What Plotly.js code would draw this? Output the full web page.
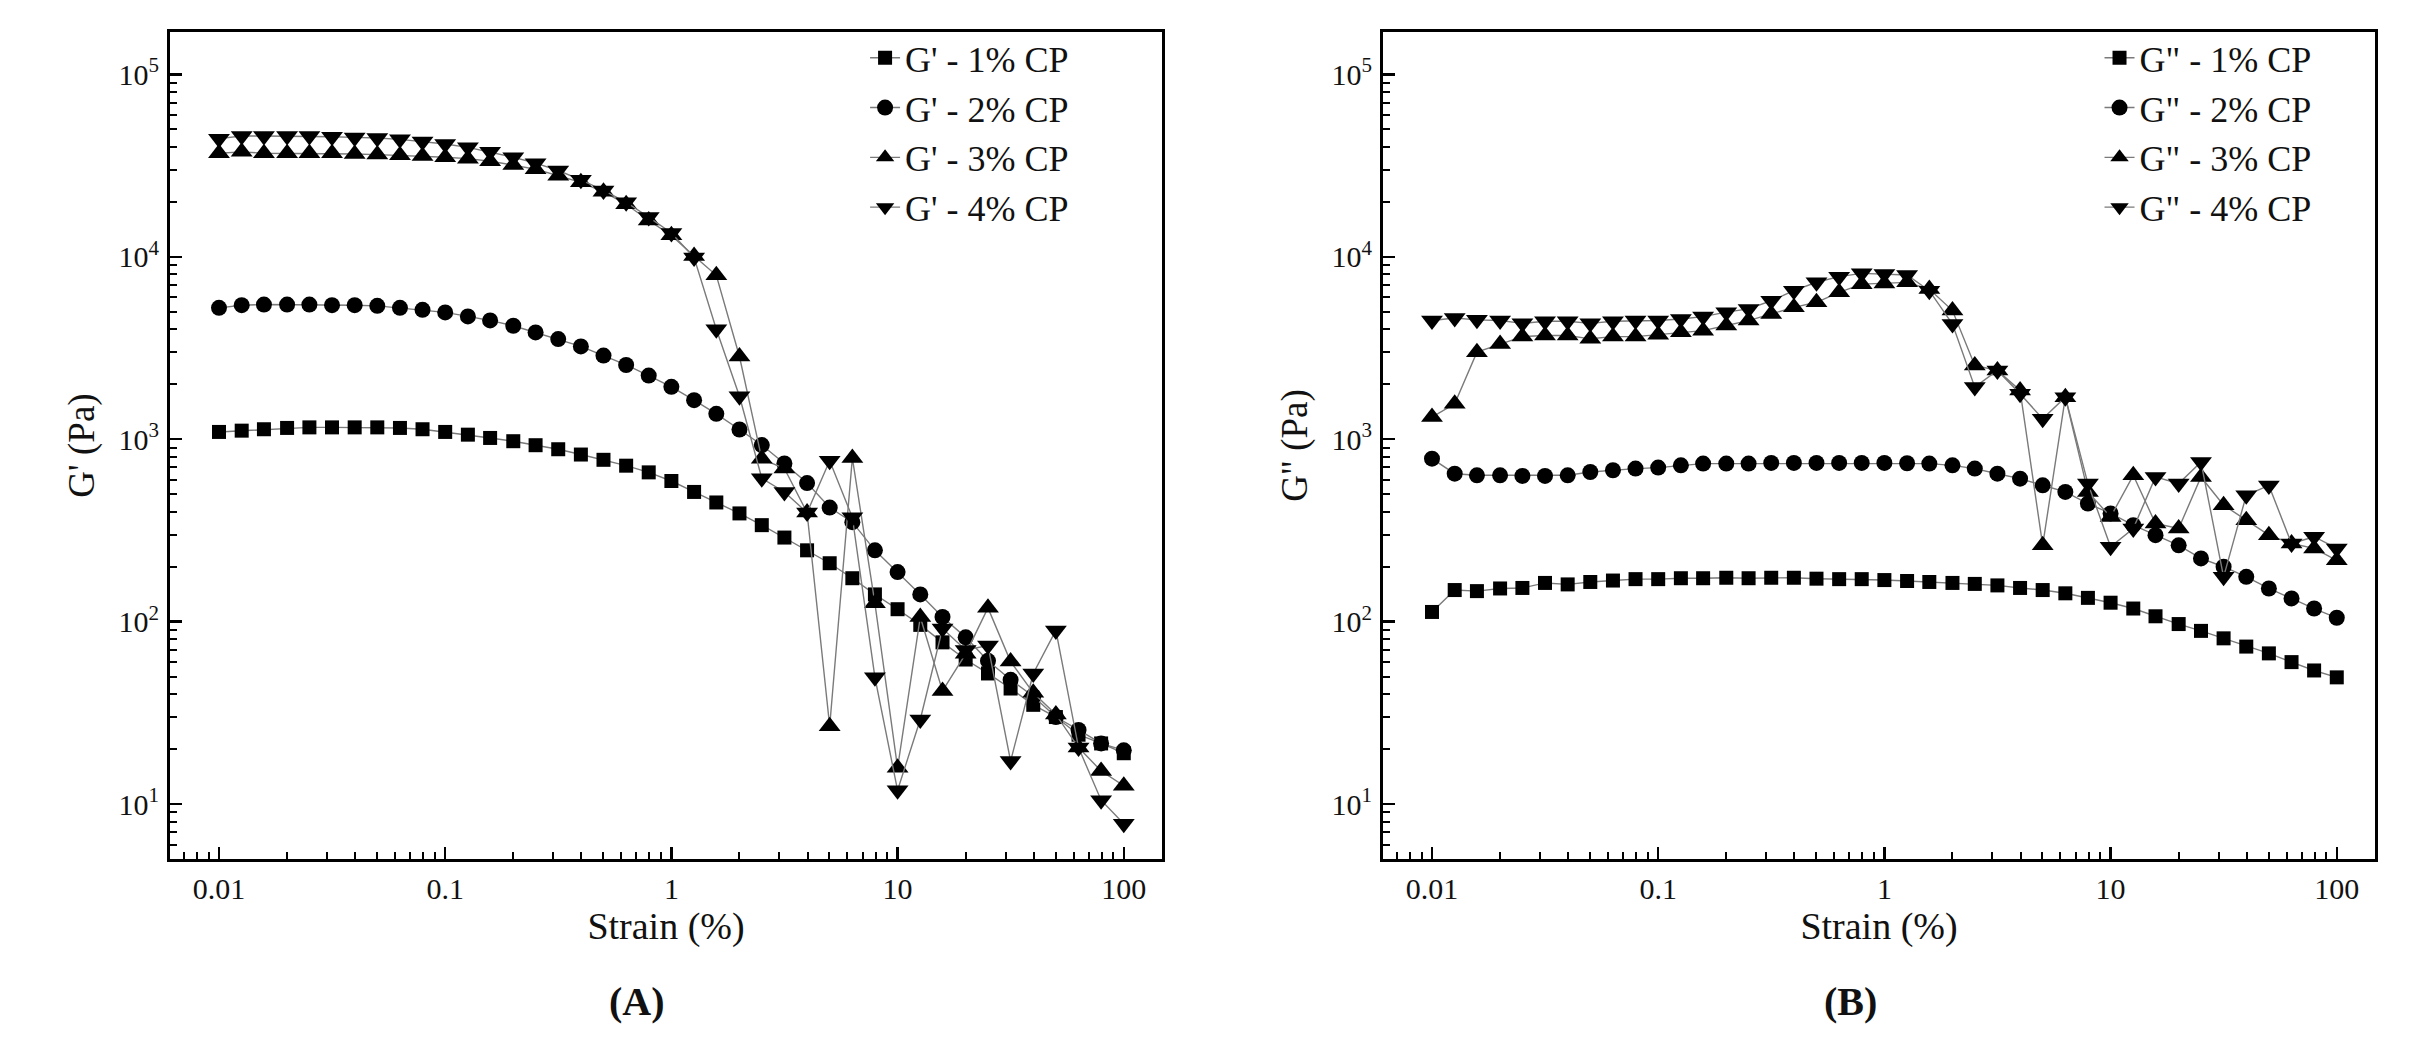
<!DOCTYPE html>
<html>
<head>
<meta charset="utf-8">
<script src="https://cdn.plot.ly/plotly-3.0.1.min.js"></script>
<style>
    html, body { margin: 0; padding: 0; background: #fff; }
    #chart { width: 2430px; height: 1039px; }
</style>
</head>
<body>
<div id="chart"></div>
<script>
// strain sweep, 10 points per decade
const strain = [0.01, 0.0126, 0.0158, 0.02, 0.0251, 0.0316, 0.0398, 0.0501, 0.0631, 0.0794,
    0.1, 0.126, 0.158, 0.2, 0.251, 0.316, 0.398, 0.501, 0.631, 0.794,
    1, 1.26, 1.58, 2, 2.51, 3.16, 3.98, 5.01, 6.31, 7.94,
    10, 12.6, 15.8, 20, 25.1, 31.6, 39.8, 50.1, 63.1, 79.4, 100]

// storage modulus G' (Pa)
const gp1 = [1096, 1114, 1134, 1153, 1161, 1161, 1161, 1161, 1153, 1134,
    1096, 1059, 1016, 975, 927, 881, 824, 771, 716, 658,
    590, 514, 450, 392, 338, 289, 246, 209, 173, 141,
    117, 96, 77, 62, 52, 43, 35, 30, 24, 21.5, 19]
const gp2 = [5248, 5427, 5470, 5470, 5470, 5427, 5427, 5383, 5248, 5117,
    4955, 4710, 4477, 4188, 3849, 3538, 3227, 2873, 2552, 2233,
    1937, 1637, 1377, 1130, 929, 736, 575, 422, 351, 246,
    187, 141, 106, 82, 61, 48, 39, 30, 25.5, 21.5, 19.7]
const gp3 = [36900, 37600, 36900, 36900, 36900, 36900, 36600, 36300, 36000, 35700,
    35100, 34500, 33400, 31800, 30200, 27800, 25600, 22700, 19400, 15800,
    13100, 10100, 7910, 2840, 781, 691, 396, 26.7, 789, 126,
    15.8, 106, 41.7, 66.6, 119, 60.4, 40.7, 31, 20.4, 15.2, 12.6]
const gp4 = [44400, 45900, 45900, 45900, 45900, 45500, 45100, 44800, 44000, 42900,
    41500, 39800, 37600, 35100, 32600, 29700, 26400, 23100, 19900, 16500,
    13500, 9900, 4010, 1720, 611, 514, 396, 762, 373, 49.5,
    11.9, 29.1, 91.7, 70, 74, 17.2, 52, 89.5, 20.4, 10.5, 7.8]

// loss modulus G" (Pa)
const gpp1 = [113, 149, 147, 152, 153, 163, 160, 165, 168, 171,
    171, 173, 173, 174, 173, 174, 174, 172, 171, 171,
    169, 167, 165, 163, 161, 158, 153, 149, 143, 135,
    127, 118, 107, 97, 89, 81, 73, 67, 60, 54, 49.5]
const gpp2 = [782, 647, 634, 634, 629, 629, 634, 661, 676, 690,
    699, 719, 735, 735, 735, 741, 741, 741, 741, 741,
    741, 738, 735, 719, 690, 647, 608, 559, 514, 444,
    392, 338, 298, 262, 222, 200, 176, 152, 134, 118, 105]
const gpp3 = [1322, 1563, 3000, 3330, 3650, 3700, 3700, 3550, 3650, 3650,
    3740, 3855, 3935, 4200, 4470, 4860, 5280, 5630, 6380, 7080,
    7140, 7240, 6650, 5070, 2535, 2380, 1850, 262, 1700, 514,
    375, 634, 345, 324, 621, 435, 360, 298, 268, 252, 217]
const gpp4 = [4470, 4620, 4510, 4470, 4315, 4430, 4430, 4315, 4430, 4470,
    4470, 4560, 4700, 4970, 5180, 5740, 6520, 7250, 7780, 8110,
    8040, 7940, 6520, 4280, 1930, 2380, 1775, 1295, 1700, 571,
    257, 324, 621, 571, 750, 176, 493, 558, 268, 292, 252]

const concentrations = ["1% CP", "2% CP", "3% CP", "4% CP"]
const symbols = ["square", "circle", "triangle-up", "triangle-down"]
const markerSizes = [14, 16, 19, 19]

const xTickVals = [0.01, 0.1, 1, 10, 100]
const xTickText = ["0.01", "0.1", "1", "10", "100"]
const yTickVals = [10, 100, 1000, 10000, 100000]
const yTickText = ["10<sup>1</sup>", "10<sup>2</sup>", "10<sup>3</sup>", "10<sup>4</sup>", "10<sup>5</sup>"]

const serif = '"Liberation Serif", "Times New Roman", Times, serif'

function makeTraces(seriesList, prefix, xa, ya, legendId) {
    return seriesList.map((vals, i) => ({
        name: prefix + " - " + concentrations[i],
        x: strain,
        y: vals,
        xaxis: xa,
        yaxis: ya,
        legend: legendId,
        type: 'scatter',
        mode: 'lines+markers',
        line: {color: '#7a7a7a', width: 1.4},
        marker: {symbol: symbols[i], size: markerSizes[i], color: '#000', line: {width: 0}},
        cliponaxis: true
    }))
}

const traces = makeTraces([gp1, gp2, gp3, gp4], "G'", 'x', 'y', 'legend')
    .concat(makeTraces([gpp1, gpp2, gpp3, gpp4], 'G"', 'x2', 'y2', 'legend2'))

function xAxis(domain, anchor) {
    return {
        type: 'log',
        domain: domain,
        anchor: anchor,
        range: [-2.2166, 2.169],
        tickmode: 'array',
        tickvals: xTickVals,
        ticktext: xTickText,
        ticks: 'inside',
        ticklen: 12,
        tickwidth: 2.5,
        tickcolor: '#000',
        minor: {ticks: 'inside', ticklen: 7, tickwidth: 2, tickcolor: '#000', dtick: 'D1', showgrid: false},
        showline: true,
        linewidth: 3,
        linecolor: '#000',
        mirror: true,
        showgrid: false,
        zeroline: false,
        ticklabelstandoff: 1,
        tickfont: {family: serif, size: 30, color: '#111'},
        title: {text: 'Strain (%)', font: {family: serif, size: 38, color: '#111'}, standoff: 0}
    }
}

function yAxis(anchor, titleText) {
    return {
        type: 'log',
        anchor: anchor,
        domain: [0, 1],
        range: [0.699, 5.232],
        tickmode: 'array',
        tickvals: yTickVals,
        ticktext: yTickText,
        ticks: 'inside',
        ticklen: 12,
        tickwidth: 2.5,
        tickcolor: '#000',
        minor: {ticks: 'inside', ticklen: 7, tickwidth: 2, tickcolor: '#000', dtick: 'D1', showgrid: false},
        showline: true,
        linewidth: 3,
        linecolor: '#000',
        mirror: true,
        showgrid: false,
        zeroline: false,
        ticklabelstandoff: 2,
        tickfont: {family: serif, size: 30, color: '#111'},
        title: {text: titleText, font: {family: serif, size: 37, color: '#111'}, standoff: 13}
    }
}

function legendBox(x) {
    return {
        x: x,
        y: 1.005,
        xanchor: 'left',
        yanchor: 'top',
        bgcolor: 'rgba(0,0,0,0)',
        borderwidth: 0,
        font: {family: serif, size: 36, color: '#111'},
        itemwidth: 30
    }
}

const layout = {
    width: 2430,
    height: 1039,
    margin: {l: 0, r: 0, t: 32, b: 180},
    font: {family: serif, color: '#111'},
    paper_bgcolor: '#fff',
    plot_bgcolor: '#fff',
    showlegend: true,
    xaxis: xAxis([170 / 2430, 1162 / 2430], 'y'),
    yaxis: yAxis('x', "G' (Pa)"),
    xaxis2: xAxis([1383 / 2430, 2375 / 2430], 'y2'),
    yaxis2: yAxis('x2', 'G" (Pa)'),
    legend: legendBox(0.3560),
    legend2: legendBox(0.8640),
    annotations: [
        {text: '<b>(A)</b>', xref: 'paper', yref: 'paper', x: 637 / 2430, y: -0.172,
            xanchor: 'center', yanchor: 'middle', showarrow: false,
            font: {family: serif, size: 40, color: '#111'}},
        {text: '<b>(B)</b>', xref: 'paper', yref: 'paper', x: 1850 / 2430, y: -0.172,
            xanchor: 'center', yanchor: 'middle', showarrow: false,
            font: {family: serif, size: 40, color: '#111'}}
    ]
}

Plotly.newPlot('chart', traces, layout, {staticPlot: true, displayModeBar: false})
</script>
</body>
</html>
